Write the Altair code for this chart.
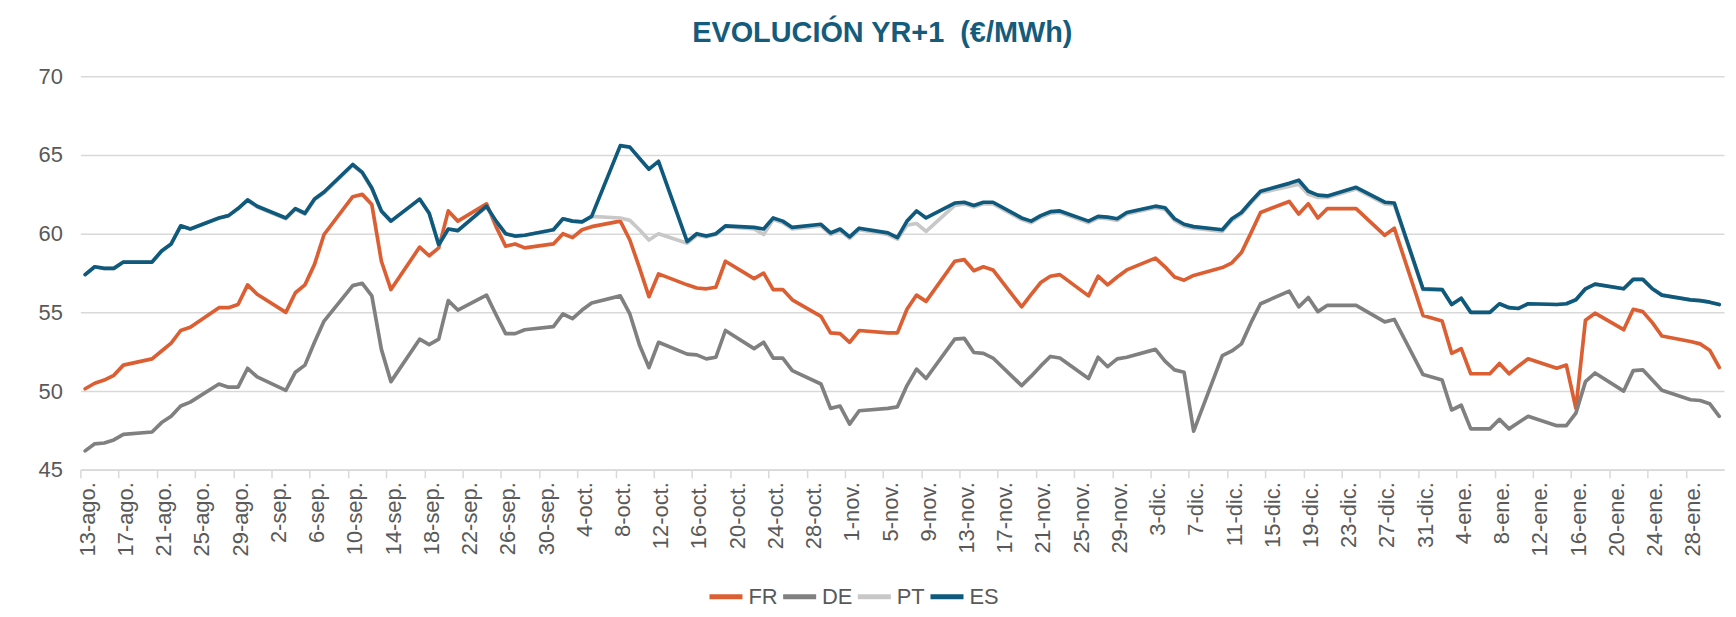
import altair as alt
import pandas as pd

# ---- categories (business days shown in the reference) ----
AUG_18 = [13, 14, 15, 16, 17, 20, 21, 22, 23, 24, 27, 28, 29, 30, 31]
SEP_18 = [3, 4, 5, 6, 7, 10, 11, 12, 13, 14, 17, 18, 19, 20, 21, 24, 25, 26, 27, 28]
OCT_18 = [1, 2, 3, 4, 5, 8, 9, 10, 11, 12, 15, 16, 17, 18, 19, 22, 23, 24, 25, 26, 29, 30, 31]
NOV_18 = [1, 2, 5, 6, 7, 8, 9, 12, 13, 14, 15, 16, 19, 20, 21, 22, 23, 26, 27, 28, 29, 30]
DEC_18 = [3, 4, 5, 6, 7, 10, 11, 12, 13, 14, 17, 18, 19, 20, 21, 24, 27, 28, 31]
JAN_19 = [2, 3, 4, 5, 7, 8, 9, 10, 11, 14, 15, 16, 17, 18, 21, 22, 23, 24, 25, 28, 29, 30, 31]

DATES = ([f"2018-08-{d:02d}" for d in AUG_18] + [f"2018-09-{d:02d}" for d in SEP_18] +
         [f"2018-10-{d:02d}" for d in OCT_18] + [f"2018-11-{d:02d}" for d in NOV_18] +
         [f"2018-12-{d:02d}" for d in DEC_18] + [f"2019-01-{d:02d}" for d in JAN_19])

# ---- series values (€/MWh) ----
FR = [
    50.15, 50.5, 50.7, 51.0, 51.65, 52.05, 52.55, 53.05, 53.85, 54.05, 55.3, 55.3, 55.5, 56.75, 56.15,
    55.0, 56.25, 56.75, 58.05, 59.95, 62.35, 62.5, 61.85, 58.25, 56.45, 59.15, 58.6, 59.1, 61.45, 60.8,
    61.9, 60.45, 59.2, 59.35, 59.1,
    59.35, 60.0, 59.75, 60.25, 60.45, 60.8, 59.6, 57.85, 56.0, 57.45, 56.75, 56.55, 56.5, 56.6, 58.25,
    57.15, 57.5, 56.45, 56.45, 55.8, 54.75, 53.7, 53.65,
    53.1, 53.85, 53.7, 53.7, 55.2, 56.1, 55.7, 58.25, 58.35, 57.65, 57.9, 57.7, 55.35, 56.15, 56.9,
    57.3, 57.4, 56.05, 57.3, 56.75, 57.25, 57.7,
    58.45, 57.9, 57.25, 57.05, 57.35, 57.85, 58.15, 58.8, 60.05, 61.35, 62.05, 61.25, 61.9, 61.0, 61.6,
    61.6, 59.9, 60.35, 54.8,
    54.45, 52.4, 52.7, 51.1, 51.1, 51.75, 51.1, 51.6, 52.05, 51.45, 51.65, 48.9, 54.5, 54.95, 53.9,
    55.2, 55.05, 54.35, 53.5, 53.15, 53.0, 52.6, 51.5,
]
DE = [
    46.2, 46.65, 46.7, 46.9, 47.25, 47.4, 48.0, 48.4, 49.05, 49.3, 50.45, 50.25, 50.25, 51.45, 50.9,
    50.05, 51.2, 51.65, 53.1, 54.45, 56.7, 56.85, 56.05, 52.65, 50.6, 53.3, 52.95, 53.3, 55.75, 55.15,
    56.1, 54.85, 53.65, 53.65, 53.9,
    54.1, 54.9, 54.6, 55.15, 55.6, 56.05, 54.9, 52.95, 51.5, 53.1, 52.35, 52.3, 52.05, 52.15, 53.85,
    52.7, 53.1, 52.1, 52.1, 51.3, 50.45, 48.9, 49.05,
    47.9, 48.75, 48.9, 49.0, 50.35, 51.4, 50.8, 53.3, 53.35, 52.45, 52.4, 52.1, 50.35, 50.95, 51.6,
    52.2, 52.1, 50.8, 52.15, 51.55, 52.05, 52.15,
    52.65, 51.9, 51.35, 51.2, 47.45, 52.25, 52.55, 53.0, 54.35, 55.55, 56.35, 55.35, 55.95, 55.05, 55.45,
    55.45, 54.4, 54.55, 51.05,
    50.7, 48.8, 49.1, 47.6, 47.6, 48.2, 47.6, 48.0, 48.4, 47.8, 47.8, 48.6, 50.6, 51.15, 50.0,
    51.3, 51.35, 50.7, 50.05, 49.45, 49.4, 49.2, 48.4,
]
PT = [
    57.4, 57.9, 57.8, 57.8, 58.2, 58.2, 58.9, 59.35, 60.5, 60.3, 61.0, 61.15, 61.6, 62.1, 61.7,
    60.95, 61.55, 61.25, 62.15, 62.6, 64.35, 63.85, 62.85, 61.4, 60.8, 62.2, 61.3, 59.3, 60.3, 60.2,
    61.7, 60.8, 60.0, 59.85, 59.9,
    60.25, 60.95, 60.8, 60.75, 61.1, 61.0, 60.85, 60.25, 59.6, 60.0, 59.4, 59.9, 59.8, 59.95, 60.45,
    60.3, 59.95, 60.9, 60.7, 60.3, 60.5, 59.95, 60.2,
    59.7, 60.25, 59.95, 59.65, 60.55, 60.65, 60.15, 61.8, 61.9, 61.7, 61.9, 61.9, 60.9, 60.7, 61.05,
    61.3, 61.35, 60.7, 61.0, 60.95, 60.85, 61.25,
    61.65, 61.55, 60.85, 60.5, 60.35, 60.15, 60.85, 61.25, 61.95, 62.6, 63.0, 63.15, 62.5, 62.3, 62.3,
    62.85, 61.9, 61.85, 56.45,
    56.45, 55.5, 55.9, 55.0, 55.0, 55.55, 55.3, 55.25, 55.55, 55.5, 55.55, 55.8, 56.5, 56.8, 56.5,
    57.1, 57.1, 56.5, 56.1, 55.8, 55.75, 55.65, 55.5,
]
ES = [
    57.4, 57.9, 57.8, 57.8, 58.2, 58.2, 58.9, 59.35, 60.5, 60.3, 61.0, 61.15, 61.6, 62.15, 61.75,
    61.0, 61.6, 61.3, 62.2, 62.65, 64.4, 63.9, 62.9, 61.45, 60.8, 62.2, 61.3, 59.3, 60.3, 60.2,
    61.75, 60.8, 60.0, 59.85, 59.9,
    60.25, 60.95, 60.8, 60.75, 61.1, 65.6, 65.5, 64.8, 64.1, 64.6, 59.5, 60.0, 59.85, 60.0, 60.5,
    60.4, 60.3, 61.0, 60.8, 60.4, 60.6, 60.05, 60.3,
    59.8, 60.35, 60.05, 59.75, 60.8, 61.45, 61.0, 61.95, 62.0, 61.8, 62.0, 62.0, 61.0, 60.8, 61.15,
    61.4, 61.45, 60.8, 61.1, 61.05, 60.95, 61.35,
    61.75, 61.65, 60.95, 60.6, 60.45, 60.25, 60.95, 61.35, 62.05, 62.7, 63.2, 63.4, 62.7, 62.45, 62.4,
    62.95, 62.0, 61.95, 56.5,
    56.45, 55.5, 55.9, 55.0, 55.0, 55.55, 55.3, 55.25, 55.55, 55.5, 55.55, 55.8, 56.5, 56.8, 56.5,
    57.1, 57.1, 56.5, 56.1, 55.8, 55.75, 55.65, 55.5,
]

SERIES = ["FR", "DE", "PT", "ES"]
COLORS = ["#DC5F33", "#808080", "#C8C8C8", "#0F5A7C"]
Y_TICKS = [45, 50, 55, 60, 65, 70]
MESES = ["ene", "feb", "mar", "abr", "may", "jun", "jul", "ago", "sep", "oct", "nov", "dic"]
TITLE = "EVOLUCIÓN YR+1\u00a0 (€/MWh)"

rows = []
for name, vals in zip(SERIES, [FR, DE, PT, ES]):
    for d, v in zip(DATES, vals):
        rows.append({"fecha": d + "T12:00:00Z", "serie": name, "valor": v})
df = pd.DataFrame(rows)


def ms(s):
    return int(pd.Timestamp(s, tz="UTC").value // 10**6)


x_start = ms("2018-08-13")
x_end = ms("2019-02-01")
tick_vals = [int(t.value // 10**6) for t in pd.date_range("2018-08-13", "2019-01-28", freq="4D", tz="UTC")]

label_expr = ("utcdate(datum.value) + '-' + " + str(MESES).replace('"', "'") +
              "[utcmonth(datum.value)] + '.'")

FONT = "Liberation Sans"
GRID = "#D9D9D9"
TXT = "#595959"

base = alt.Chart(df).encode(
    x=alt.X(
        "fecha:T",
        scale=alt.Scale(type="utc", domain=[x_start, x_end]),
        axis=alt.Axis(
            values=tick_vals, labelExpr=label_expr, labelAngle=270, labelOffset=7,
            labelOverlap=False, labelFlush=False, grid=False,
            domainColor=GRID, domainWidth=1.5, tickColor=GRID, tickWidth=1.5, tickSize=8,
            labelPadding=4, labelFontSize=22, labelColor=TXT, labelFont=FONT, title=None,
        ),
    ),
    y=alt.Y(
        "valor:Q",
        scale=alt.Scale(domain=[45, 70], nice=False, zero=False),
        axis=alt.Axis(
            values=Y_TICKS, grid=True, gridColor=GRID, gridWidth=1.5, domain=False, ticks=False,
            labelPadding=18, labelFontSize=22, labelColor=TXT, labelFont=FONT, title=None,
        ),
    ),
    color=alt.Color(
        "serie:N",
        scale=alt.Scale(domain=SERIES, range=COLORS),
        legend=alt.Legend(
            orient="none", legendX=629, legendY=503, direction="horizontal", columns=4,
            title=None, symbolType="stroke", symbolSize=1100, symbolStrokeWidth=5,
            labelFontSize=22, labelColor=TXT, labelFont=FONT, columnPadding=-6, labelOffset=3,
            padding=0,
        ),
    ),
)

layers = [
    base.transform_filter(alt.datum.serie == s).mark_line(strokeWidth=3.7, strokeJoin="round", strokeCap="round")
    for s in SERIES
]

chart = alt.layer(*layers).properties(
    width=1651,
    height=395.2,
    title=alt.TitleParams(
        text=TITLE, fontSize=29, fontWeight="bold", color="#155B7C", font=FONT,
        anchor="middle", dx=-20, offset=17,
    ),
    autosize=alt.AutoSizeParams(type="none"),
    padding={"left": 72.7, "top": 67.3, "right": 4, "bottom": 138.5},
).configure_view(stroke=None)

chart.save("out.html", embed_options={"renderer": "svg", "actions": False})
